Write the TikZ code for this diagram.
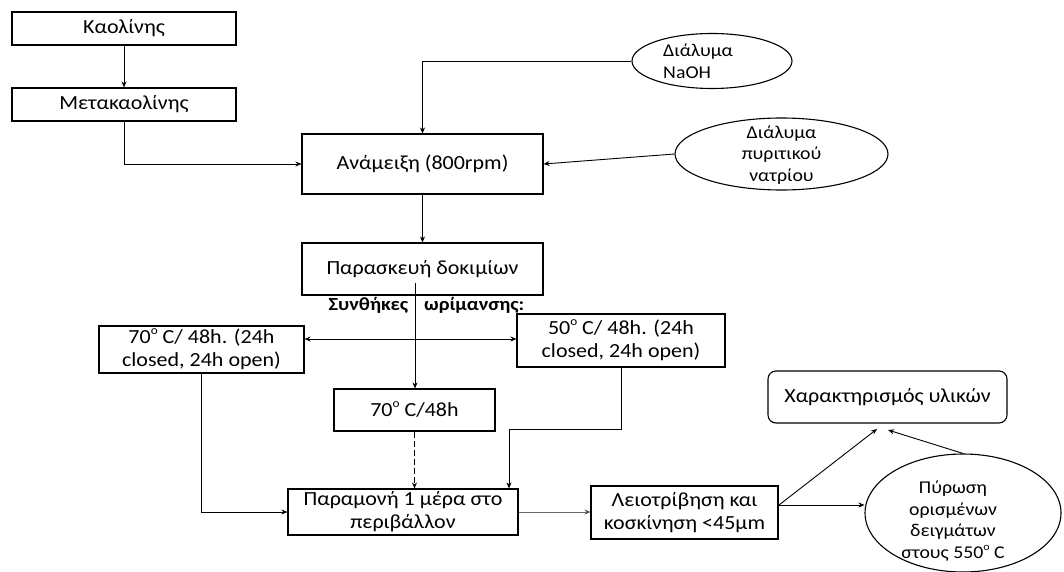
\documentclass[tikz,border=0pt]{standalone}
\usepackage{fontspec}
\setmainfont{Carlito}[FakeStretch=1.1]
\usetikzlibrary{shapes.geometric,arrows.meta}
\newcommand{\supo}{\raisebox{0.45em}{\scalebox{0.6}{o}}}
\tikzset{
  box/.style={draw, line width=1.1pt, inner sep=2pt, align=center, font=\fontsize{20}{23}\selectfont},
  oval/.style={draw, ellipse, line width=1.1pt, inner sep=0pt},
  otext/.style={align=center, inner sep=0pt, font=\fontsize{18}{21.5}\selectfont},
  conn/.style={line width=0.9pt, -{Stealth[length=6pt,width=5pt]}},
  thinconn/.style={line width=0.6pt, draw=black!60, -{Stealth[length=6pt,width=5pt,fill=black]}},
  headlbl/.style={inner sep=0pt, font=\bfseries\fontsize{18.5}{22}\selectfont}
}
\begin{document}
\begin{tikzpicture}[x=1pt,y=-1pt]
\useasboundingbox (0,0) rectangle (1064,572);
\fill[white] (0,0) rectangle (1064,572);

\node[box, minimum width=224pt, minimum height=33pt] (kaol) at (124,28.5) {Καολίνης};
\node[box, minimum width=224pt, minimum height=33pt] (meta) at (124,104.5) {Μετακαολίνης};
\node[box, minimum width=241pt, minimum height=60pt] (anam) at (422.5,164) {Ανάμειξη (800rpm)};
\node[oval, minimum width=160pt, minimum height=55pt,
  label={[otext,align=left,xshift=-14pt]center:Διάλυμα\\NaOH}] (naoh) at (712,61) {};
\node[oval, minimum width=213pt, minimum height=72pt,
  label={[otext,yshift=-1pt]center:Διάλυμα\\πυριτικού\\νατρίου}] (silic) at (781.5,154) {};
\node[box, minimum width=241pt, minimum height=52pt] (parask) at (422.5,269) {Παρασκευή δοκιμίων};
\node[headlbl] (synth) at (426.5,305) {Συνθήκες\hspace{16pt}ωρίμανσης:};
\node[box, minimum width=205pt, minimum height=47pt] (c70a) at (201.5,349.5) {70\supo{} C/ 48h. (24h\\closed, 24h open)};
\node[box, minimum width=208pt, minimum height=53pt] (c50) at (621,340.5) {50\supo{} C/ 48h. (24h\\closed, 24h open)};
\node[box, minimum width=161pt, minimum height=42pt] (c70b) at (414.5,410) {70\supo{} C/48h};
\node[box, minimum width=230pt, minimum height=46pt] (param) at (403,512) {Παραμονή 1 μέρα στο\\περιβάλλον};
\node[box, minimum width=187pt, minimum height=53pt] (leio) at (684.5,512.5) {Λειοτρίβηση και\\κοσκίνηση <45μm};
\node[box, rounded corners=8pt, minimum width=239pt, minimum height=52pt] (char) at (887.5,397) {Χαρακτηρισμός υλικών};
\node[oval, minimum width=196pt, minimum height=118pt,
  label={[otext,xshift=-10pt,yshift=-8pt]center:Πύρωση\\ορισμένων\\δειγμάτων\\στους 550\supo{} C}] (pyr) at (963,513) {};

\coordinate (split) at (415,283);
\coordinate (junc) at (415,339);
\coordinate (bend) at (509,429);
\coordinate (lo) at (779,505);
\coordinate (ca) at (877,429);
\coordinate (cb) at (888,430);

\draw[conn] (kaol) -- (meta);
\draw[conn] (meta.south) |- (anam.west);
\draw[conn] (naoh.west) -| (anam.north);
\draw[conn] (silic.west) -- (anam.east);
\draw[conn] (anam) -- (parask);
\draw[conn] (split) -- (split |- c70b.north);
\draw[conn] (junc) -- (junc -| c70a.east);
\draw[conn] (junc) -- (junc -| c50.west);
\draw[conn] (c70a.south) |- (param.west);
\draw[conn] (c50.south) |- (bend) -- (bend |- param.north);
\draw[conn, dash pattern=on 6pt off 3pt] (c70b.south) -- (c70b.south |- param.north);
\draw[thinconn] (param.east) -- (param.east -| leio.west);
\draw[conn] (lo) -- (ca);
\draw[conn] (lo) -- (lo -| pyr.west);
\draw[conn] (pyr.north) -- (cb);
\end{tikzpicture}
\end{document}
